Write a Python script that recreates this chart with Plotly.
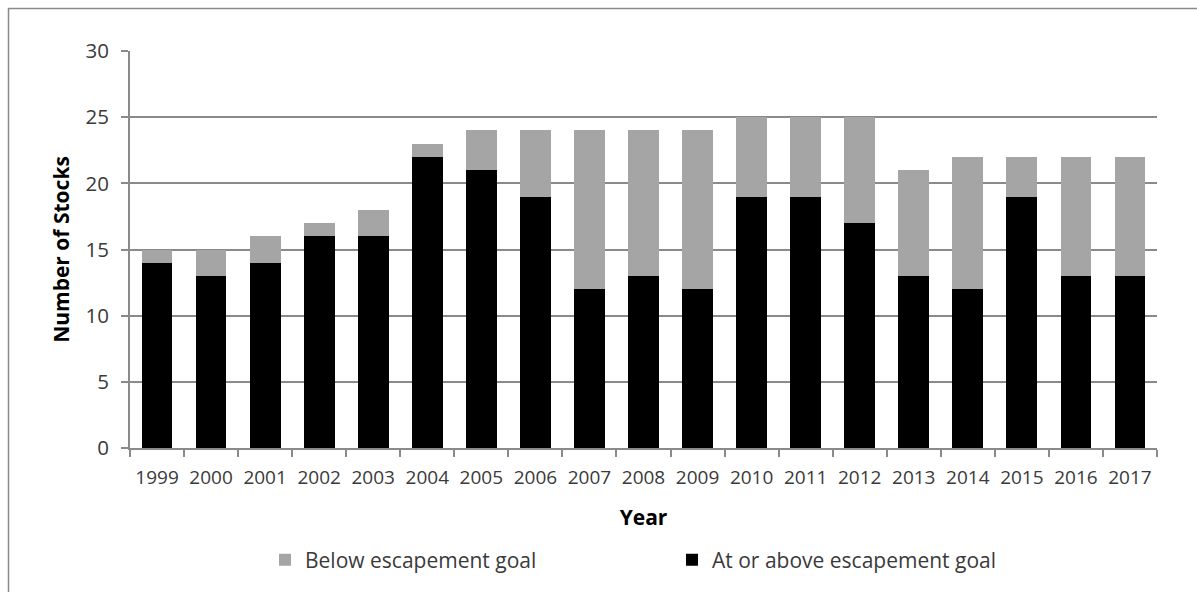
import plotly.graph_objects as go

years = ["1999", "2000", "2001", "2002", "2003", "2004", "2005", "2006", "2007", "2008",
         "2009", "2010", "2011", "2012", "2013", "2014", "2015", "2016", "2017"]
at_or_above = [14, 13, 14, 16, 16, 22, 21, 19, 12, 13, 12, 19, 19, 17, 13, 12, 19, 13, 13]
below = [1, 2, 2, 1, 2, 1, 3, 5, 12, 11, 12, 6, 6, 8, 8, 10, 3, 9, 9]

W, H = 1197, 592
L, R, T, B = 130, 40, 51, 144
font_family = "Open Sans, Lato, sans-serif"
text_grey = "#3a3a3a"

fig = go.Figure()
fig.add_trace(go.Bar(x=years, y=at_or_above, name="At or above escapement goal",
                     marker=dict(color="#000000", line=dict(width=0))))
fig.add_trace(go.Bar(x=years, y=below, name="Below escapement goal",
                     marker=dict(color="#a5a5a5", line=dict(width=0))))

# outer chart frame (left and top edges visible)
pw, ph = W - L - R, H - T - B
def px_x(p):
    return (p - L) / pw
def px_y(p):
    return 1 - (p - T) / ph

fig.add_shape(type="rect", xref="paper", yref="paper",
              x0=px_x(8.5), x1=px_x(1210), y0=px_y(8.5), y1=px_y(610),
              line=dict(color="#8a8a8a", width=1.5), layer="below")

fig.update_layout(
    width=W, height=H,
    barmode="stack", bargap=0.43,
    plot_bgcolor="white", paper_bgcolor="white",
    margin=dict(l=L, r=R, t=T, b=B),
    font=dict(family=font_family, size=19, color=text_grey),
    legend=dict(orientation="h", traceorder="reversed", x=px_x(265), xanchor="left",
                y=px_y(560), yanchor="middle", entrywidth=362, entrywidthmode="pixels",
                font=dict(size=21, color=text_grey), itemwidth=30),
    showlegend=True,
)
fig.update_xaxes(
    showline=True, linecolor="#8a8a8a", linewidth=2,
    ticks="outside", tickson="boundaries", ticklen=7, tickcolor="#8a8a8a", tickwidth=2,
    tickfont=dict(size=19, color=text_grey), ticklabelstandoff=11, tickangle=0,
    title=dict(text="<b>Year</b>", font=dict(size=21, color="#000000"), standoff=22),
)
fig.update_yaxes(
    range=[0, 30], dtick=5, showline=True, linecolor="#8a8a8a", linewidth=2,
    showgrid=True, gridcolor="#8a8a8a", gridwidth=2,
    ticks="outside", ticklen=7, tickcolor="#8a8a8a", tickwidth=2,
    tickfont=dict(size=20.5, color=text_grey), ticklabelstandoff=8,
    title=dict(text="<b>Number of Stocks</b>", font=dict(size=21, color="#000000"), standoff=10),
    zeroline=False,
)

fig.write_html("out.html")
